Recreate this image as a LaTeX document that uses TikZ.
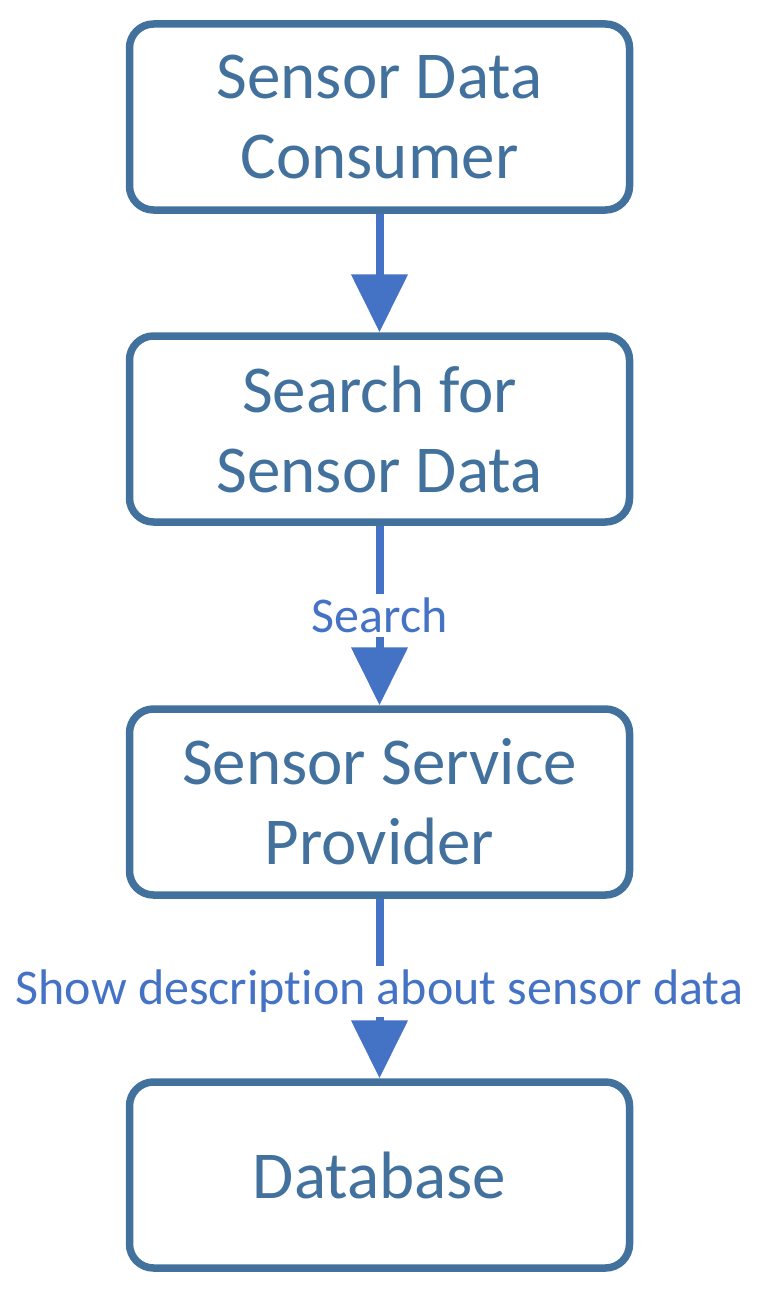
\documentclass[tikz,border=0pt]{standalone}
\usepackage{fontspec}
\setmainfont{Carlito}[Ligatures=NoCommon]
\usetikzlibrary{arrows.meta}
\definecolor{boxblue}{HTML}{41719C}
\definecolor{arrowblue}{HTML}{4472C4}
\begin{document}
\begin{tikzpicture}[x=1pt,y=-1pt,
  box/.style={draw=boxblue, line width=7.5pt, rounded corners=24pt,
    minimum width=500pt, minimum height=186pt, inner sep=0pt,
    text=boxblue, align=center, font=\fontsize{67}{80}\selectfont},
  flow/.style={draw=arrowblue, line width=8pt,
    -{Triangle[width=55pt,length=58pt]}, fill=arrowblue},
  lbl/.style={fill=white, text=arrowblue, inner sep=4pt,
    font=\fontsize{50}{60}\selectfont}]
\path[use as bounding box] (0,0) rectangle (764,1292);
\node[box] (consumer) at (379.5,117) {Sensor Data\\Consumer};
\node[box] (search) at (379.5,429) {Search for\\Sensor Data};
\node[box] (provider) at (379.5,802) {Sensor Service\\Provider};
\node[box] (db) at (379.5,1175) {Database};
\draw[flow] (consumer.south) -- (search.north);
\draw[flow] (search.south) -- node[lbl] (l1) {Search} (provider.north);
\draw[flow] (provider.south) -- node[lbl, yshift=-3pt] (l2) {Show descript\kern0pt ion about sensor data} (db.north);
\end{tikzpicture}
\end{document}
